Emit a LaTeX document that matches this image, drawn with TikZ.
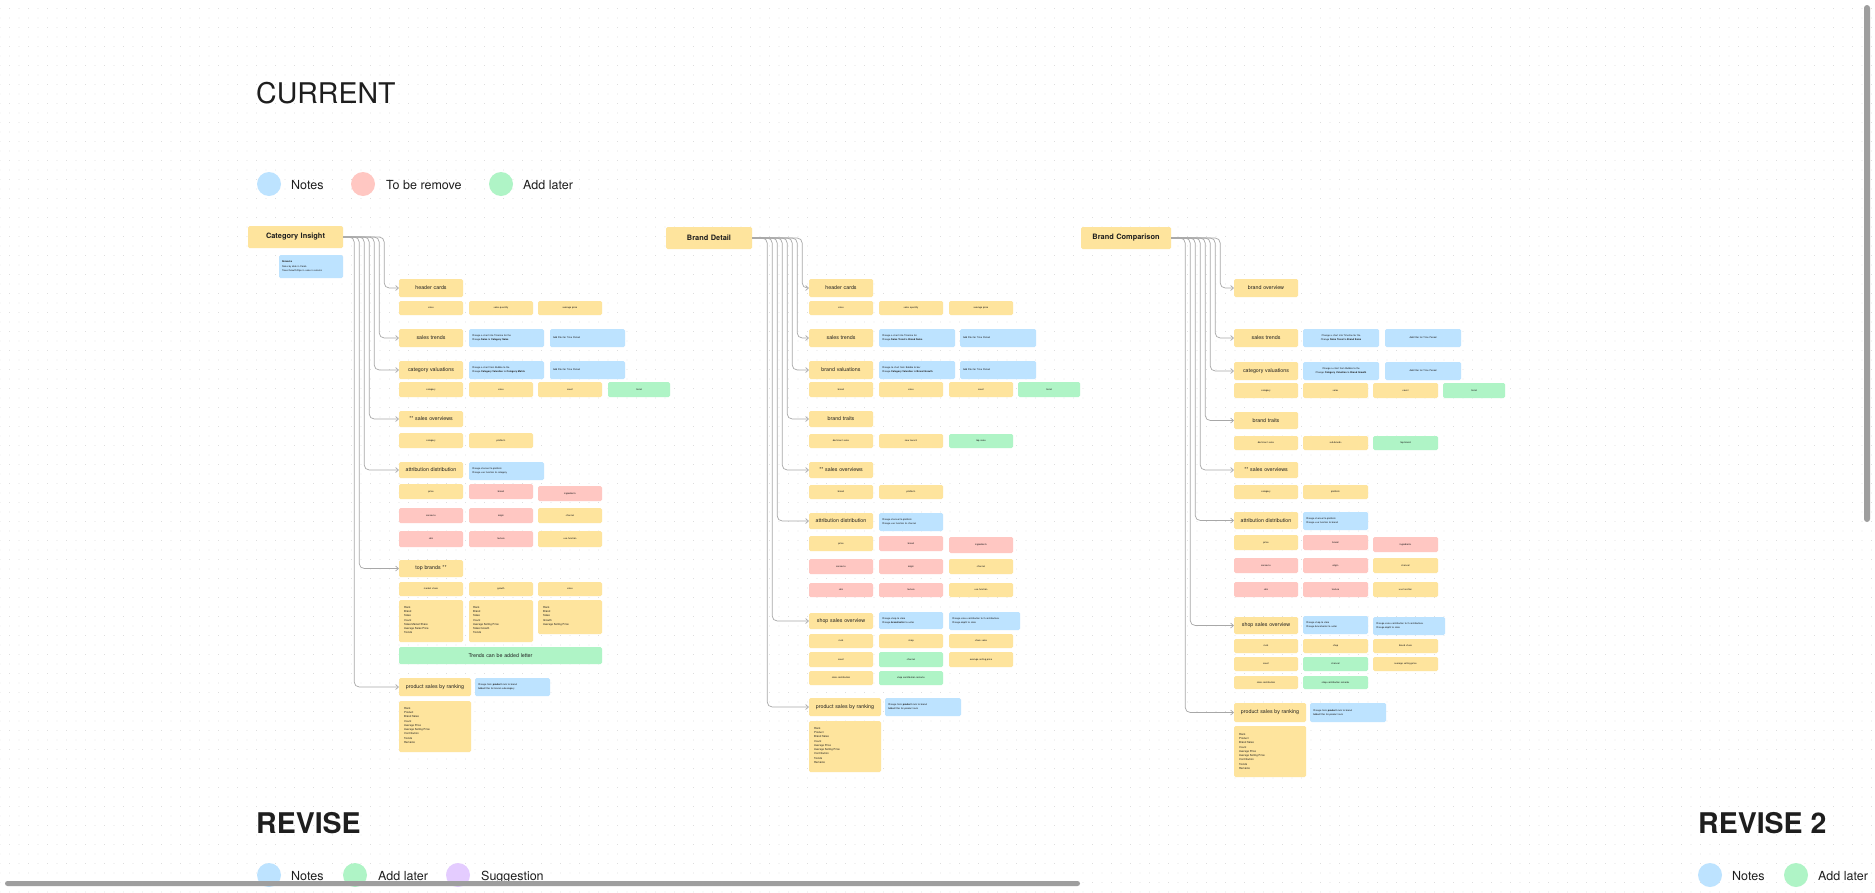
\documentclass[tikz,border=0pt]{standalone}
\usepackage{fontspec}
\setmainfont{TeX Gyre Heros}
\usetikzlibrary{arrows.meta,patterns.meta}
\definecolor{cyel}{HTML}{FEE49D}
\definecolor{cblue}{HTML}{BDE3FF}
\definecolor{cred}{HTML}{FFC7C2}
\definecolor{cgreen}{HTML}{AFF4C6}
\definecolor{cpurple}{HTML}{E4CCFF}
\definecolor{ink}{HTML}{1E1E1E}
\definecolor{lineg}{HTML}{A8A8A8}
\newcommand\fsz[2]{\fontsize{#1}{#2}\selectfont}
\newcommand\bx[7]{\pgfmathsetmacro\mybw{#5-#3-6}\pgfmathsetmacro\mybh{#6-#4}%
  \node[box,#2,text width=\mybw pt,minimum height=\mybh pt] (#1) at ({(#3+#5)/2},{(#4+#6)/2}) {#7};}
\tikzset{
  box/.style={rounded corners=1.5pt,inner xsep=3pt,inner ysep=0pt,align=center,text=ink},
  pp/.style={fill=cyel,font=\bfseries\fsz{7.4}{9}},
  hy/.style={fill=cyel,font=\fsz{5.3}{6.4}},
  sy/.style={fill=cyel,font=\fsz{2.4}{3.2}},
  sr/.style={fill=cred,font=\fsz{2.4}{3.2}},
  sg/.style={fill=cgreen,font=\fsz{2.4}{3.2}},
  nb/.style={fill=cblue,font=\fsz{2.4}{4.2},align=left},
  nbc/.style={fill=cblue,font=\fsz{2.4}{4.2},align=center},
  bg/.style={fill=cgreen,font=\fsz{5.3}{6.4}},
  lt/.style={inner sep=0pt,anchor=north west,align=left,font=\fsz{2.7}{4.3},text=ink},
  conn/.style={draw=lineg,line width=0.7pt,rounded corners=5pt,-{Straight Barb[length=2.6pt,width=5pt]}},
  dot/.style={circle,inner sep=0pt,minimum size=24pt},
  legt/.style={inner sep=0pt,anchor=base west,font=\fsz{12.5}{15},text=ink},
  ttl/.style={inner sep=0pt,anchor=base west,text=ink}
}
\begin{document}
\begin{tikzpicture}[x=1pt,y=-1pt]
\useasboundingbox (0,0) rectangle (1875,892);
\fill[white] (0,0) rectangle (1875,892);
\fill[pattern={Dots[distance=9.5pt,radius=0.45pt]},pattern color=black!20] (0,0) rectangle (1875,892);

% titles and legends
\node[ttl,font=\fsz{28.5}{36}] (tcur) at (256,103) {CURRENT};
\node[dot,fill=cblue] (l1) at (269,184) {};
\node[legt] (l1t) at (291,189) {Notes};
\node[dot,fill=cred] (l2) at (363,184) {};
\node[legt] (l2t) at (386,189) {To be remove};
\node[dot,fill=cgreen] (l3) at (501,184) {};
\node[legt] (l3t) at (523,189) {Add later};

\node[ttl,font=\bfseries\fsz{28.5}{36}] (trev) at (256,833) {REVISE};
\node[dot,fill=cblue] (r1) at (269,875) {};
\node[legt] (r1t) at (291,880) {Notes};
\node[dot,fill=cgreen] (r2) at (355,875) {};
\node[legt] (r2t) at (378,880) {Add later};
\node[dot,fill=cpurple] (r3) at (458,875) {};
\node[legt] (r3t) at (481,880) {Suggestion};

\node[ttl,font=\bfseries\fsz{28.5}{36}] (trev2) at (1698,833) {REVISE 2};
\node[dot,fill=cblue] (s1) at (1710,875) {};
\node[legt] (s1t) at (1732,880) {Notes};
\node[dot,fill=cgreen] (s2) at (1796,875) {};
\node[legt] (s2t) at (1818,880) {Add later};

% ================= CATEGORY INSIGHT =================
\bx{ci}{pp}{248}{226}{343}{248}{Category Insight}
\bx{cin}{nb}{279}{255}{343}{278}{\textbf{Remarks}\\Sales by date in Cards\\Trace Growth/Dips in sales in column}
\bx{ci1}{hy}{399}{279}{463}{297}{header cards}
\bx{ci1a}{sy}{399}{301}{463}{315}{sales}
\bx{ci1b}{sy}{469}{301}{533}{315}{sales quantity}
\bx{ci1c}{sy}{538}{301}{602}{315}{average price}
\bx{ci2}{hy}{399}{329}{463}{347}{sales trends}
\bx{ci2n}{nb}{469}{329}{544}{347}{Change a chart into Timeline for the\\Change \textbf{Sales} to \textbf{Category Sales}}
\bx{ci2m}{nb}{550}{329}{625}{347}{Add filter for Time Period}
\bx{ci3}{hy}{399}{361}{463}{379}{category valuations}
\bx{ci3n}{nb}{469}{361}{544}{379}{Change a chart from Bubble to the\\Change \textbf{Category Valuation} to \textbf{Category Matrix}}
\bx{ci3m}{nb}{550}{361}{625}{379}{Add filter for Time Period}
\bx{ci3a}{sy}{399}{382}{463}{397}{category}
\bx{ci3b}{sy}{469}{382}{533}{397}{sales}
\bx{ci3c}{sy}{538}{382}{602}{397}{count}
\bx{ci3d}{sg}{608}{382}{670}{397}{trend}
\bx{ci4}{hy}{399}{411}{463}{427}{** sales overviews}
\bx{ci4a}{sy}{399}{433}{463}{448}{category}
\bx{ci4b}{sy}{469}{433}{533}{448}{platform}
\bx{ci5}{hy}{399}{462}{463}{478}{attribution distribution}
\bx{ci5n}{nb}{469}{462}{544}{480}{Change channel to platform\\Change use function to category}
\bx{ci5a}{sy}{399}{484}{463}{499}{price}
\bx{ci5b}{sr}{469}{484}{533}{499}{brand}
\bx{ci5c}{sr}{538}{486}{602}{501}{ingredients}
\bx{ci5d}{sr}{399}{508}{463}{523}{concerns}
\bx{ci5e}{sr}{469}{508}{533}{523}{origin}
\bx{ci5f}{sy}{538}{508}{602}{523}{channel}
\bx{ci5g}{sr}{399}{531}{463}{547}{skin}
\bx{ci5h}{sr}{469}{531}{533}{547}{texture}
\bx{ci5i}{sy}{538}{531}{602}{547}{use function}
\bx{ci6}{hy}{399}{560}{463}{577}{top brands **}
\bx{ci6a}{sy}{399}{582}{463}{596}{market share}
\bx{ci6b}{sy}{469}{582}{533}{596}{growth}
\bx{ci6c}{sy}{538}{582}{602}{596}{sales}
\bx{ci6la}{sy}{399}{600}{463}{642}{}
\bx{ci6lb}{sy}{469}{600}{533}{642}{}
\bx{ci6lc}{sy}{538}{600}{602}{634}{}
\node[lt] (ci6ta) at (404,606) {Rank\\Brand\\Sales\\Count\\Sales Market Share\\Average Sales Price\\Trends};
\node[lt] (ci6tb) at (473,606) {Rank\\Brand\\Sales\\Count\\Average Selling Price\\Sales Growth\\Trends};
\node[lt] (ci6tc) at (543,606) {Rank\\Brand\\Sales\\Growth\\Average Selling Price};
\bx{ci6g}{bg}{399}{647}{602}{664}{Trends can be added letter}
\bx{ci7}{hy}{399}{678}{471}{696}{product sales by ranking}
\bx{ci7n}{nb}{475}{678}{550}{696}{Change from \textbf{product} rank to brand\\Added filter for brand subcategory}
\bx{ci7l}{sy}{399}{701}{471}{752}{}
\node[lt] (ci7t) at (404,707) {Rank\\Product\\Brand Sales\\Count\\Average Price\\Average Selling Price\\Contribution\\Trends\\Remarks};

\draw[conn] (ci.east) -- ++(41,0) |- (ci1.west);
\draw[conn] (ci.east) -- ++(36,0) |- (ci2.west);
\draw[conn] (ci.east) -- ++(31,0) |- (ci3.west);
\draw[conn] (ci.east) -- ++(26,0) |- (ci4.west);
\draw[conn] (ci.east) -- ++(21,0) |- (ci5.west);
\draw[conn] (ci.east) -- ++(16,0) |- (ci6.west);
\draw[conn] (ci.east) -- ++(11,0) |- (ci7.west);

% ================= BRAND DETAIL =================
\bx{bd}{pp}{666}{227}{752}{249}{Brand Detail}
\bx{bd1}{hy}{809}{279}{873}{297}{header cards}
\bx{bd1a}{sy}{809}{301}{873}{315}{sales}
\bx{bd1b}{sy}{879}{301}{943}{315}{sales quantity}
\bx{bd1c}{sy}{949}{301}{1013}{315}{average price}
\bx{bd2}{hy}{809}{329}{873}{347}{sales trends}
\bx{bd2n}{nb}{879}{329}{955}{347}{Change a chart into Timeline for\\Change \textbf{Sales Trend} to \textbf{Brand Sales}}
\bx{bd2m}{nb}{960}{329}{1036}{347}{Add filter for Time Period}
\bx{bd3}{hy}{809}{361}{873}{379}{brand valuations}
\bx{bd3n}{nb}{879}{361}{955}{379}{Change to chart from Bubble to bar\\Change \textbf{Category Valuation} to \textbf{Brand Growth}}
\bx{bd3m}{nb}{960}{361}{1036}{379}{Add filter for Time Period}
\bx{bd3a}{sy}{809}{382}{873}{397}{brand}
\bx{bd3b}{sy}{879}{382}{943}{397}{sales}
\bx{bd3c}{sy}{949}{382}{1013}{397}{count}
\bx{bd3d}{sg}{1018}{382}{1080}{397}{trend}
\bx{bd4}{hy}{809}{411}{873}{427}{brand traits}
\bx{bd4a}{sy}{809}{434}{873}{448}{dominant sales}
\bx{bd4b}{sy}{879}{434}{943}{448}{new launch}
\bx{bd4c}{sg}{949}{434}{1013}{448}{top sales}
\bx{bd5}{hy}{809}{462}{873}{478}{** sales overviews}
\bx{bd5a}{sy}{809}{485}{873}{499}{brand}
\bx{bd5b}{sy}{879}{485}{943}{499}{platform}
\bx{bd6}{hy}{809}{513}{873}{529}{attribution distribution}
\bx{bd6n}{nb}{879}{513}{943}{531}{Change channel to platform\\Change use function to channel}
\bx{bd6a}{sy}{809}{536}{873}{551}{price}
\bx{bd6b}{sr}{879}{536}{943}{551}{brand}
\bx{bd6c}{sr}{949}{537}{1013}{553}{ingredients}
\bx{bd6d}{sr}{809}{559}{873}{574}{concerns}
\bx{bd6e}{sr}{879}{559}{943}{574}{origin}
\bx{bd6f}{sy}{949}{559}{1013}{574}{channel}
\bx{bd6g}{sr}{809}{583}{873}{597}{skin}
\bx{bd6h}{sr}{879}{583}{943}{597}{texture}
\bx{bd6i}{sy}{949}{583}{1013}{597}{use function}
\bx{bd7}{hy}{809}{613}{873}{629}{shop sales overview}
\bx{bd7n}{nb}{879}{612}{943}{629}{Change shop to store\\Change \textbf{brand/seller} to seller}
\bx{bd7m}{nb}{949}{612}{1020}{630}{Change sales contribution to 2 contributions\\Change depth to store}
\bx{bd7a}{sy}{809}{634}{873}{648}{rank}
\bx{bd7b}{sy}{879}{634}{943}{648}{shop}
\bx{bd7c}{sy}{949}{634}{1013}{648}{share sales}
\bx{bd7d}{sy}{809}{652}{873}{667}{count}
\bx{bd7e}{sg}{879}{652}{943}{667}{channel}
\bx{bd7f}{sy}{949}{652}{1013}{667}{average selling price}
\bx{bd7g}{sy}{809}{671}{873}{685}{store contribution}
\bx{bd7h}{sg}{879}{671}{943}{685}{shop contribution remarks}
\bx{bd8}{hy}{809}{698}{881}{716}{product sales by ranking}
\bx{bd8n}{nb}{885}{698}{961}{716}{Change from \textbf{product} rank to brand\\Added filter for product rank}
\bx{bd8l}{sy}{809}{721}{881}{772}{}
\node[lt] (bd8t) at (814,727) {Rank\\Product\\Brand Sales\\Count\\Average Price\\Average Selling Price\\Contribution\\Trends\\Remarks};

\draw[conn] (bd.east) -- ++(50,0) |- (bd1.west);
\draw[conn] (bd.east) -- ++(45,0) |- (bd2.west);
\draw[conn] (bd.east) -- ++(40,0) |- (bd3.west);
\draw[conn] (bd.east) -- ++(35,0) |- (bd4.west);
\draw[conn] (bd.east) -- ++(30,0) |- (bd5.west);
\draw[conn] (bd.east) -- ++(25,0) |- (bd6.west);
\draw[conn] (bd.east) -- ++(20,0) |- (bd7.west);
\draw[conn] (bd.east) -- ++(15,0) |- (bd8.west);

% ================= BRAND COMPARISON =================
\bx{bc}{pp}{1081}{227}{1171}{249}{Brand Comparison}
\bx{bc1}{hy}{1234}{279}{1298}{297}{brand overview}
\bx{bc2}{hy}{1234}{329}{1298}{347}{sales trends}
\bx{bc2n}{nbc}{1303}{329}{1379}{347}{Change a chart into Timeline for the\\Change \textbf{Sales Trend} to \textbf{Brand Sales}}
\bx{bc2m}{nbc}{1385}{329}{1461}{347}{Add filter for Time Period}
\bx{bc3}{hy}{1234}{362}{1298}{380}{category valuations}
\bx{bc3n}{nbc}{1303}{362}{1379}{380}{Change a chart from Bubble to the\\Change \textbf{Category Valuation} to \textbf{Brand Growth}}
\bx{bc3m}{nbc}{1385}{362}{1461}{380}{Add filter for Time Period}
\bx{bc3a}{sy}{1234}{383}{1298}{398}{category}
\bx{bc3b}{sy}{1303}{383}{1368}{398}{sales}
\bx{bc3c}{sy}{1373}{383}{1438}{398}{count}
\bx{bc3d}{sg}{1443}{383}{1505}{398}{trend}
\bx{bc4}{hy}{1234}{412}{1298}{429}{brand traits}
\bx{bc4a}{sy}{1234}{436}{1298}{450}{dominant sales}
\bx{bc4b}{sy}{1303}{436}{1368}{450}{sub-brands}
\bx{bc4c}{sg}{1373}{436}{1438}{450}{top brand}
\bx{bc5}{hy}{1234}{462}{1298}{478}{** sales overviews}
\bx{bc5a}{sy}{1234}{485}{1298}{499}{category}
\bx{bc5b}{sy}{1303}{485}{1368}{499}{platform}
\bx{bc6}{hy}{1234}{512}{1298}{529}{attribution distribution}
\bx{bc6n}{nb}{1303}{512}{1368}{530}{Change channel to platform\\Change use function to brand}
\bx{bc6a}{sy}{1234}{535}{1298}{550}{price}
\bx{bc6b}{sr}{1303}{535}{1368}{550}{brand}
\bx{bc6c}{sr}{1373}{537}{1438}{552}{ingredients}
\bx{bc6d}{sr}{1234}{558}{1298}{573}{concerns}
\bx{bc6e}{sr}{1303}{558}{1368}{573}{origin}
\bx{bc6f}{sy}{1373}{558}{1438}{573}{channel}
\bx{bc6g}{sr}{1234}{582}{1298}{597}{skin}
\bx{bc6h}{sr}{1303}{582}{1368}{597}{texture}
\bx{bc6i}{sy}{1373}{582}{1438}{597}{use function}
\bx{bc7}{hy}{1234}{617}{1298}{634}{shop sales overview}
\bx{bc7n}{nb}{1303}{616}{1368}{634}{Change shop to store\\Change brand/seller to seller}
\bx{bc7m}{nb}{1373}{617}{1445}{635}{Change sales contribution to 2 contributions\\Change depth to store}
\bx{bc7a}{sy}{1234}{639}{1298}{653}{rank}
\bx{bc7b}{sy}{1303}{639}{1368}{653}{shop}
\bx{bc7c}{sy}{1373}{639}{1438}{653}{brand share}
\bx{bc7d}{sy}{1234}{657}{1298}{671}{count}
\bx{bc7e}{sg}{1303}{657}{1368}{671}{channel}
\bx{bc7f}{sy}{1373}{657}{1438}{671}{average selling price}
\bx{bc7g}{sy}{1234}{676}{1298}{689}{store contribution}
\bx{bc7h}{sg}{1303}{676}{1368}{689}{shop contribution remarks}
\bx{bc8}{hy}{1234}{703}{1306}{722}{product sales by ranking}
\bx{bc8n}{nb}{1310}{703}{1386}{722}{Change from \textbf{product} rank to brand\\Added filter for product rank}
\bx{bc8l}{sy}{1234}{726}{1306}{777}{}
\node[lt] (bc8t) at (1239,733) {Rank\\Product\\Brand Sales\\Count\\Average Price\\Average Selling Price\\Contribution\\Trends\\Remarks};

\draw[conn] (bc.east) -- ++(49,0) |- (bc1.west);
\draw[conn] (bc.east) -- ++(44,0) |- (bc2.west);
\draw[conn] (bc.east) -- ++(39,0) |- (bc3.west);
\draw[conn] (bc.east) -- ++(34,0) |- (bc4.west);
\draw[conn] (bc.east) -- ++(29,0) |- (bc5.west);
\draw[conn] (bc.east) -- ++(24,0) |- (bc6.west);
\draw[conn] (bc.east) -- ++(19,0) |- (bc7.west);
\draw[conn] (bc.east) -- ++(14,0) |- (bc8.west);

% scrollbars
\fill[black!38,rounded corners=2.5pt] (5,881) rectangle (1080,886);
\fill[black!38,rounded corners=3pt] (1864,5) rectangle (1870,522);
\end{tikzpicture}
\end{document}
